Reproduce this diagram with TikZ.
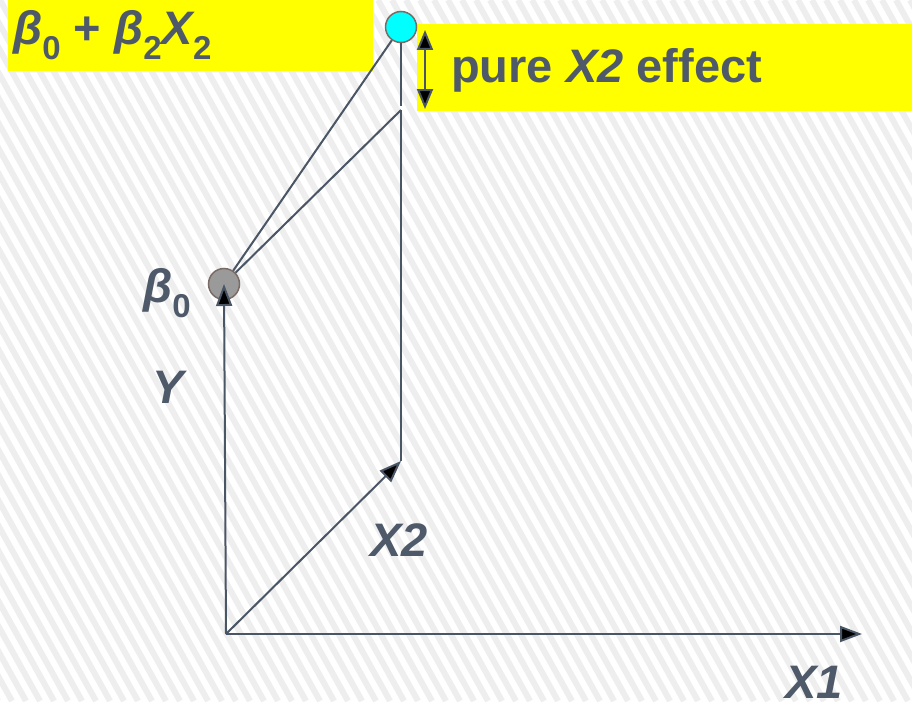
\documentclass[tikz,border=0pt]{standalone}
\usepackage{fontspec}
\setmainfont{Liberation Sans}
\usetikzlibrary{arrows.meta}
\definecolor{tc}{HTML}{4E5969}
\definecolor{lc}{HTML}{4A5565}
\definecolor{stripec}{HTML}{EEEEEE}
\definecolor{rimc}{HTML}{7B6B66}
\definecolor{hl}{HTML}{FFFF00}
\definecolor{cyanc}{HTML}{00FFFF}
\definecolor{grayc}{HTML}{9A9A9A}
\newcommand{\sbs}[1]{\raisebox{-15pt}{\fontsize{33}{33}\selectfont\bfseries\upshape #1}}
\begin{document}
\begin{tikzpicture}[x=1pt,y=-1pt,
  lbl/.style={inner sep=0pt,anchor=base west,text=tc,font=\fontsize{47}{50}\selectfont\bfseries},
  ln/.style={draw=lc,line width=2pt},
  arr/.style={ln,-{Triangle[length=22pt,width=16pt,fill=black]}},
  darr/.style={ln,{Triangle[length=20pt,width=16pt,fill=black]}-{Triangle[length=20pt,width=16pt,fill=black]}},
  dot/.style={circle,draw=rimc,line width=1.5pt,minimum size=31pt,inner sep=0pt},
  stripe/.style={draw=stripec,line width=6pt}]
\useasboundingbox (0,0) rectangle (912,701);
\fill[white] (0,0) rectangle (912,701);
\begin{scope}
\clip (0,0) rectangle (912,701);
\foreach \k in {-30,...,67} \draw[stripe] (\k*14,0) -- (\k*14+390,701);
\end{scope}
% yellow boxes
\fill[hl] (8,0) rectangle (373,71);
\fill[hl] (417,24) rectangle (912,111);
% labels
\node[lbl] (lab1) at (13,45) {\itshape β\sbs{0} {\upshape +} β\sbs{2}X\sbs{2}};
\node[lbl] (lab2) at (451,82) {pure \textit{X2} effect};
\node[lbl] (lb0) at (143,302) {\itshape β\sbs{0}};
\node[lbl] (ly) at (152,403) {\itshape Y};
\node[lbl] (lx2) at (370,556) {\itshape X2};
\node[lbl] (lx1) at (785,698) {\itshape X1};
% points
\coordinate (O) at (226,634);
\coordinate (x1e) at (862,634);
\coordinate (p2) at (401,461);
\coordinate (top) at (401,110);
\coordinate (cyfoot) at (401,106);
\coordinate (da) at (425,30);
\coordinate (db) at (425,109);
\node[dot,fill=grayc] (b0) at (224,284) {};
\node[dot,fill=cyanc] (cy) at (401,27) {};
% connectors
\draw[ln] (p2) -- (top);
\draw[ln] (top) -- (b0);
\draw[ln] (cy) -- (b0);
\draw[ln] (cy) -- (cyfoot);
\draw[arr] (O) -- (b0.center);
\draw[arr] (O) -- (x1e);
\draw[arr] (O) -- (p2);
\draw[darr] (da) -- (db);
\end{tikzpicture}
\end{document}
